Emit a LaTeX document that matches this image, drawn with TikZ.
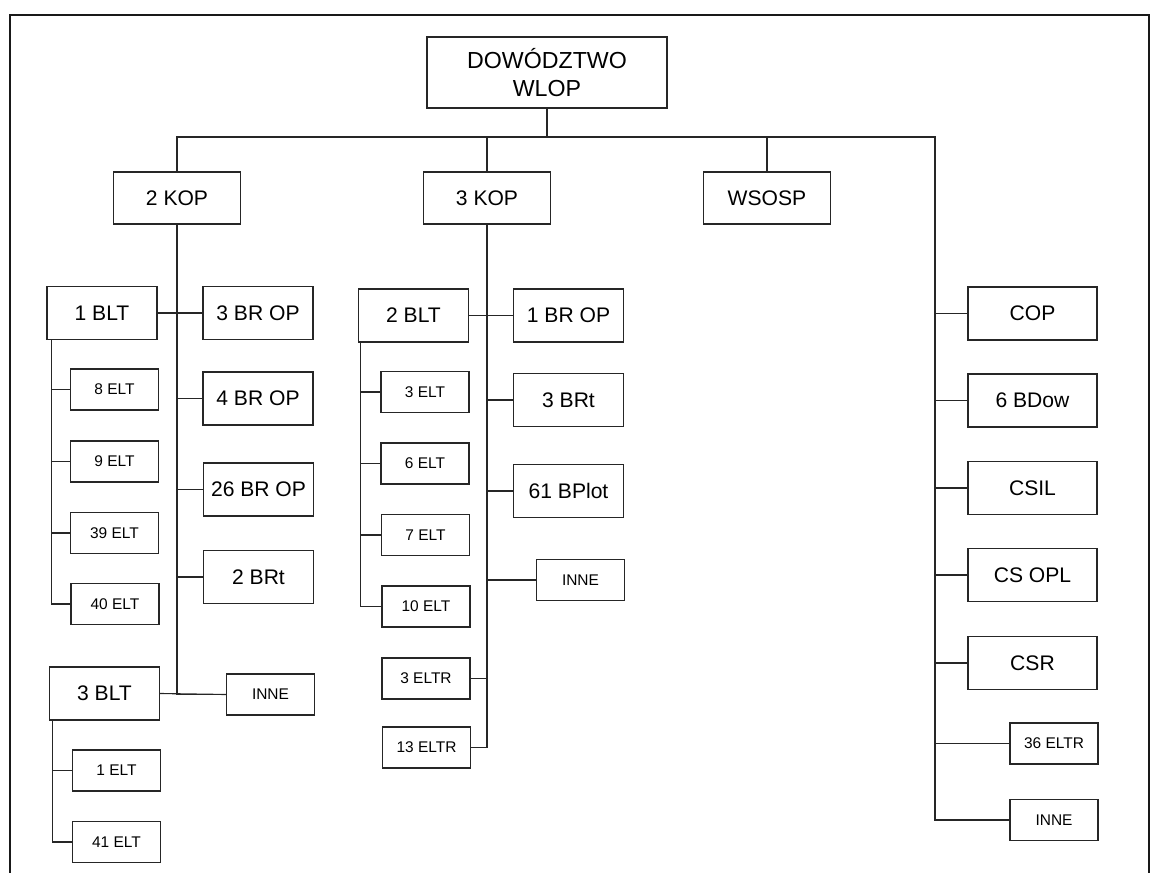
\documentclass[tikz,border=0pt]{standalone}
\usepackage{fontspec}
\setmainfont{Liberation Sans}
\usetikzlibrary{positioning,calc}
\tikzset{
  % --- boxes -----------------------------------------------------------
  base/.style    ={draw=black!85, line width=0.9pt, align=center, inner sep=2pt,
                   text=black, fill=white},
  topbox/.style  ={base, minimum width=6.0cm, minimum height=1.775cm,
                   font=\fontsize{16.5}{20}\selectfont},
  kopbox/.style  ={base, minimum width=3.175cm, minimum height=1.3cm,
                   font=\fontsize{15}{18}\selectfont},
  unitbox/.style ={base, minimum width=2.75cm, minimum height=1.325cm,
                   font=\fontsize{15}{18}\selectfont},
  widebox/.style ={base, minimum width=3.225cm, minimum height=1.325cm,
                   font=\fontsize{15}{18}\selectfont},
  smallbox/.style={base, minimum width=2.2cm, minimum height=1.025cm,
                   font=\fontsize{11}{13}\selectfont},
  % --- lines -----------------------------------------------------------
  link/.style    ={draw=black!85, line width=0.8pt},
  frame/.style   ={draw=black!90, line width=2pt},
}

\begin{document}
\begin{tikzpicture}[x=0.025cm, y=-0.025cm]
  \useasboundingbox (0,0) rectangle (1151,873);

  % ============================= frame =============================
  \draw[frame] (10,873) -- (10,15) -- (1149,15) -- (1149,873);

  % ============================= top level =============================
  \node[topbox] (wlop)  at (547,72.5) {DOWÓDZTWO\\WLOP};
  \node[kopbox] (kop2)  at (177,198)  {2 KOP};
  \node[kopbox] (kop3)  at (487,198)  {3 KOP};
  \node[kopbox] (wsosp) at (767,198)  {WSOSP};

  \coordinate (bus)    at (547,137);
  \coordinate (rspine) at (935,137);

  % ============================= 2 KOP =============================
  \node[unitbox]  (blt1)   at (102,313)   {1 BLT};
  \node[smallbox] (elt8)   at (114.5,389.5) {8 ELT};
  \node[smallbox] (elt9)   at (114.5,461.5) {9 ELT};
  \node[smallbox] (elt39)  at (114.5,533)   {39 ELT};
  \node[smallbox] (elt40)  at (115,604)     {40 ELT};
  \node[unitbox]  (blt3)   at (104.5,693.5) {3 BLT};
  \node[smallbox] (elt1)   at (116.5,770.5) {1 ELT};
  \node[smallbox] (elt41)  at (116.5,842)   {41 ELT};

  \node[unitbox]  (brop3)  at (258,313)   {3 BR OP};
  \node[unitbox]  (brop4)  at (258,398.5) {4 BR OP};
  \node[unitbox]  (brop26) at (258.5,489.5) {26 BR OP};
  \node[unitbox]  (brt2)   at (258.5,577) {2 BRt};
  \node[smallbox] (inneA)  at (270.5,694.5) {INNE};

  % ============================= 3 KOP =============================
  \node[unitbox]  (blt2)   at (413.5,315.5) {2 BLT};
  \node[smallbox] (elt3)   at (425,392)   {3 ELT};
  \node[smallbox] (elt6)   at (425,463.5) {6 ELT};
  \node[smallbox] (elt7)   at (425.5,535) {7 ELT};
  \node[smallbox] (elt10)  at (426,606.5) {10 ELT};
  \node[smallbox] (eltr3)  at (426,678.5) {3 ELTR};
  \node[smallbox] (eltr13) at (426.5,747.5) {13 ELTR};

  \node[unitbox]  (brop1)  at (568.5,315.5) {1 BR OP};
  \node[unitbox]  (brt3)   at (568.5,400) {3 BRt};
  \node[unitbox]  (bplot61) at (568.5,491) {61 BPlot};
  \node[smallbox] (inneB)  at (580.5,580) {INNE};

  % ============================= right column =============================
  \node[widebox]  (cop)    at (1032.5,313.5) {COP};
  \node[widebox]  (bdow6)  at (1032.5,400.5) {6 BDow};
  \node[widebox]  (csil)   at (1032.5,488)   {CSIL};
  \node[widebox]  (csopl)  at (1032.5,575)   {CS OPL};
  \node[widebox]  (csr)    at (1032.5,663)   {CSR};
  \node[smallbox] (eltr36) at (1054,743.5)   {36 ELTR};
  \node[smallbox] (inneC)  at (1054,820)     {INNE};

  % ============================= edges =============================
  % command -> bus -> second level
  \draw[link] (wlop.south) -- (bus);
  \draw[link] (kop2.north)  |- (bus);
  \draw[link] (kop3.north)  |- (bus);
  \draw[link] (wsosp.north) |- (bus);
  \draw[link] (bus) -- (rspine) |- (inneC.west);

  % 2 KOP spine
  \draw[link] (kop2.south) |- (inneA.west);
  \draw[link] (blt3.east) -- (inneA.west);
  \draw[link] (blt1.east) -- (brop3.west);
  \draw[link] (brop4.west)  -- (brop4.west -| kop2.south);
  \draw[link] (brop26.west) -- (brop26.west -| kop2.south);
  \draw[link] (brt2.west)   -- (brt2.west -| kop2.south);

  % 1 BLT and 3 BLT squadrons
  \coordinate (s1) at ($(blt1.south west)+(5,0)$);
  \draw[link] (s1) |- (elt40.west);
  \draw[link] (elt8.west)  -- (elt8.west -| s1);
  \draw[link] (elt9.west)  -- (elt9.west -| s1);
  \draw[link] (elt39.west) -- (elt39.west -| s1);
  \coordinate (s3) at ($(blt3.south west)+(4,0)$);
  \draw[link] (s3) |- (elt41.west);
  \draw[link] (elt1.west) -- (elt1.west -| s3);

  % 3 KOP spine
  \draw[link] (kop3.south) |- (eltr13.east);
  \draw[link] (blt2.east) -- (brop1.west);
  \draw[link] (brt3.west)    -- (brt3.west -| kop3.south);
  \draw[link] (bplot61.west) -- (bplot61.west -| kop3.south);
  \draw[link] (inneB.west)   -- (inneB.west -| kop3.south);
  \draw[link] (eltr3.east)   -- (eltr3.east -| kop3.south);

  % 2 BLT squadrons
  \coordinate (s2) at ($(blt2.south west)+(3,0)$);
  \draw[link] (s2) |- (elt10.west);
  \draw[link] (elt3.west) -- (elt3.west -| s2);
  \draw[link] (elt6.west) -- (elt6.west -| s2);
  \draw[link] (elt7.west) -- (elt7.west -| s2);

  % right column
  \draw[link] (cop.west)    -- (cop.west -| rspine);
  \draw[link] (bdow6.west)  -- (bdow6.west -| rspine);
  \draw[link] (csil.west)   -- (csil.west -| rspine);
  \draw[link] (csopl.west)  -- (csopl.west -| rspine);
  \draw[link] (csr.west)    -- (csr.west -| rspine);
  \draw[link] (eltr36.west) -- (eltr36.west -| rspine);

\end{tikzpicture}
\end{document}
